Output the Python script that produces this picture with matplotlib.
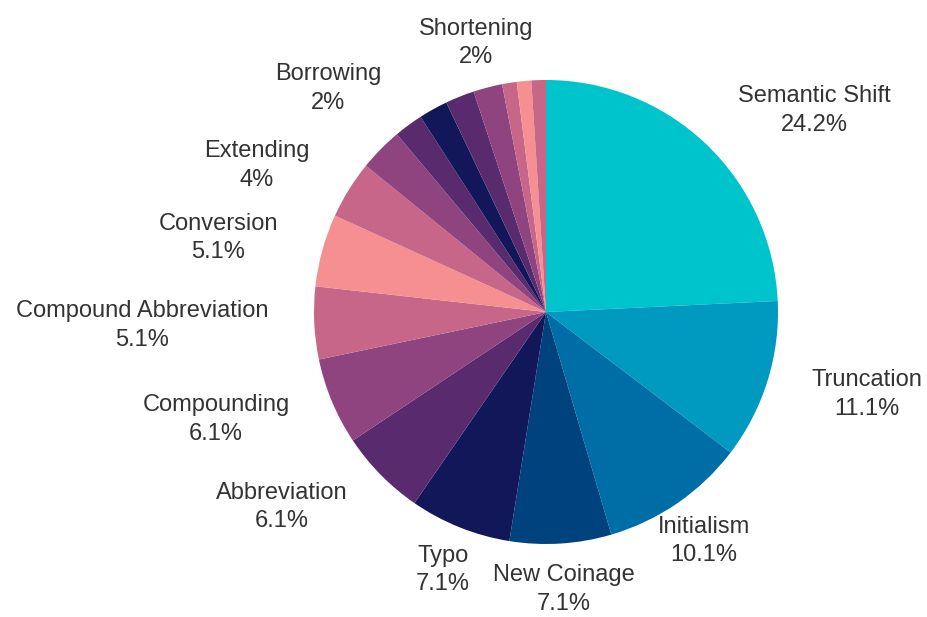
import numpy as np
import matplotlib
matplotlib.use("Agg")
import matplotlib.pyplot as plt

# ---- data (clockwise from 12 o'clock) ----
categories = ["Semantic Shift", "Truncation", "Initialism", "New Coinage", "Typo",
              "Abbreviation", "Compounding", "Compound Abbreviation", "Conversion",
              "Extending", "Other A", "Borrowing", "Other B", "Other C", "Shortening",
              "Other D", "Other E", "Other F"]
counts = [24, 11, 10, 7, 7, 6, 6, 5, 5, 4, 3, 2, 2, 2, 2, 1, 1, 1]
show_label = [True, True, True, True, True, True, True, True, True,
              True, False, True, False, False, True, False, False, False]
colors = ["#00c4cc", "#0099c0", "#006ea6", "#00427e", "#12175a", "#5a2a6e",
          "#8f4480", "#c8668a", "#f58f91", "#c8668a", "#8f4480", "#5a2a6e",
          "#12175a", "#5a2a6e", "#8f4480", "#c8668a", "#f58f91", "#c8668a"]

W, H = 928, 617
fig = plt.figure(figsize=(W / 100, H / 100), dpi=100)
cx, cy, R = 546, 312, 232
ax = fig.add_axes([(cx - R) / W, (H - cy - R) / H, 2 * R / W, 2 * R / H])

total = sum(counts)
wedges, _ = ax.pie(counts, colors=colors, startangle=90, counterclock=False,
                   radius=1.0, wedgeprops=dict(linewidth=0))
ax.set_xlim(-1, 1)
ax.set_ylim(-1, 1)
ax.set_aspect("equal")
ax.axis("off")

def fmt(c):
    v = round(c / total * 100, 1)
    s = f"{v:.1f}"
    if s.endswith(".0"):
        s = s[:-2]
    return s + "%"

d = 278 / R
for w, name, c, show in zip(wedges, categories, counts, show_label):
    if not show:
        continue
    mid = np.deg2rad((w.theta1 + w.theta2) / 2)
    x, y = d * np.cos(mid), d * np.sin(mid)
    ang = (90 - np.rad2deg(mid)) % 360
    if ang < 25 or ang > 335 or abs(ang - 180) < 40:
        ha = "center"
    elif ang < 180:
        ha = "left"
    else:
        ha = "right"
    ax.text(x, y, f"{name}\n{fmt(c)}", ha=ha, va="center", multialignment="center",
            fontsize=17, family=["Liberation Sans", "DejaVu Sans"], color="#333333",
            linespacing=1.4, clip_on=False)

fig.savefig("out.png", dpi=100)
